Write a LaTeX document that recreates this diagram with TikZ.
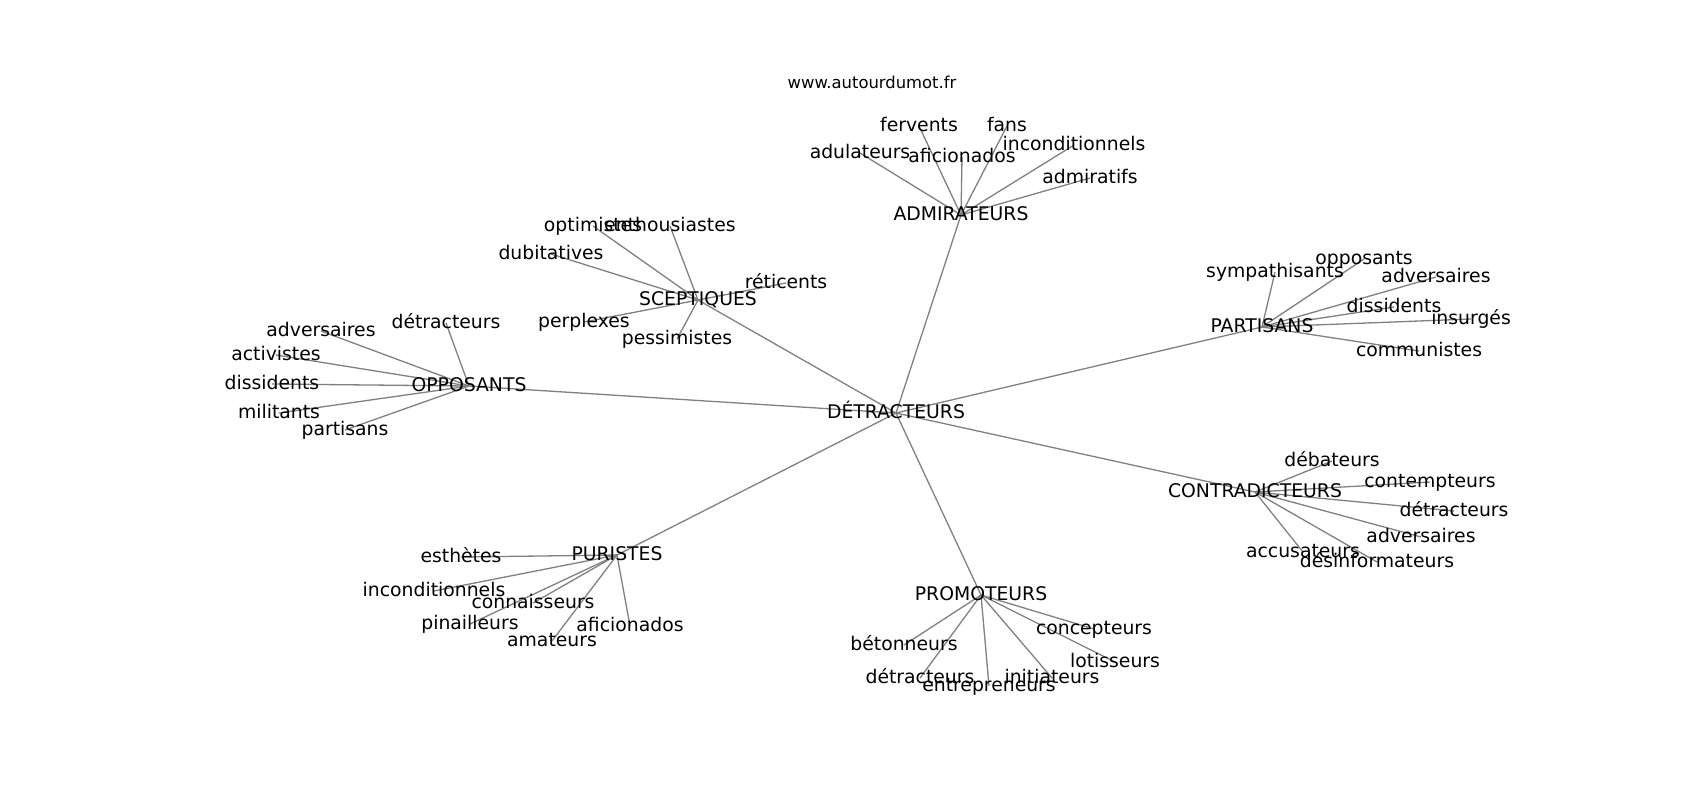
\documentclass[tikz,border=0pt]{standalone}
\usepackage{fontspec}
\setmainfont{DejaVu Sans}
\usetikzlibrary{backgrounds}
\begin{document}
\begin{tikzpicture}[x=0.5pt,y=-0.5pt,
  lbl/.style={inner sep=0pt,text height=0.76em,text depth=0.24em,font=\fontsize{9.4}{11}\selectfont,text=black},
  edge/.style={draw=black!50,line width=0.65pt}]
\path[use as bounding box] (0,0) rectangle (1700,800);
\node[inner sep=0pt,text height=0.76em,text depth=0.24em,font=\fontsize{8.2}{10}\selectfont] (www) at (872,83) {www.autourdumot.fr};
% hubs
\node[lbl] (d) at (896,413) {DÉTRACTEURS};
\node[lbl] (adm) at (961,215) {ADMIRATEURS};
\node[lbl] (scep) at (698,300) {SCEPTIQUES};
\node[lbl] (opp) at (469,386) {OPPOSANTS};
\node[lbl] (par) at (1262,327) {PARTISANS};
\node[lbl] (con) at (1255,492) {CONTRADICTEURS};
\node[lbl] (pur) at (617,555) {PURISTES};
\node[lbl] (pro) at (981,595) {PROMOTEURS};
% admirateurs
\node[lbl] (a1) at (919,126) {fervents};
\node[lbl] (a2) at (1007,126) {fans};
\node[lbl] (a3) at (860,153) {adulateurs};
\node[lbl] (a4) at (962,157) {aficionados};
\node[lbl] (a5) at (1074,145) {inconditionnels};
\node[lbl] (a6) at (1090,178) {admiratifs};
% sceptiques
\node[lbl] (s1) at (593,226) {optimistes};
\node[lbl] (s2) at (670,226) {enthousiastes};
\node[lbl] (s3) at (551,254) {dubitatives};
\node[lbl] (s4) at (786,283) {réticents};
\node[lbl] (s5) at (584,322) {perplexes};
\node[lbl] (s6) at (677,339) {pessimistes};
% opposants
\node[lbl] (o1) at (321,331) {adversaires};
\node[lbl] (o2) at (446,323) {détracteurs};
\node[lbl] (o3) at (276,355) {activistes};
\node[lbl] (o4) at (272,384) {dissidents};
\node[lbl] (o5) at (279,413) {militants};
\node[lbl] (o6) at (345,430) {partisans};
% partisans
\node[lbl] (p1) at (1364,259) {opposants};
\node[lbl] (p2) at (1275,272) {sympathisants};
\node[lbl] (p3) at (1436,277) {adversaires};
\node[lbl] (p4) at (1394,307) {dissidents};
\node[lbl] (p5) at (1471,319) {insurgés};
\node[lbl] (p6) at (1419,351) {communistes};
% contradicteurs
\node[lbl] (c1) at (1332,461) {débateurs};
\node[lbl] (c2) at (1430,482) {contempteurs};
\node[lbl] (c3) at (1454,511) {détracteurs};
\node[lbl] (c4) at (1421,537) {adversaires};
\node[lbl] (c5) at (1303,552) {accusateurs};
\node[lbl] (c6) at (1377,562) {désinformateurs};
% puristes
\node[lbl] (u1) at (461,557) {esthètes};
\node[lbl] (u2) at (434,591) {inconditionnels};
\node[lbl] (u3) at (533,603) {connaisseurs};
\node[lbl] (u4) at (470,624) {pinailleurs};
\node[lbl] (u5) at (630,626) {aficionados};
\node[lbl] (u6) at (552,641) {amateurs};
% promoteurs
\node[lbl] (r1) at (1094,629) {concepteurs};
\node[lbl] (r2) at (904,645) {bétonneurs};
\node[lbl] (r3) at (1115,662) {lotisseurs};
\node[lbl] (r4) at (920,678) {détracteurs};
\node[lbl] (r5) at (989,686) {entrepreneurs};
\node[lbl] (r6) at (1052,678) {initiateurs};
\begin{scope}[on background layer]
\foreach \h in {adm,scep,opp,par,con,pur,pro}
  \draw[edge] (d.center) -- (\h.center);
\foreach \i in {1,...,6} {
  \draw[edge] (adm.center) -- (a\i.center);
  \draw[edge] (scep.center) -- (s\i.center);
  \draw[edge] (opp.center) -- (o\i.center);
  \draw[edge] (par.center) -- (p\i.center);
  \draw[edge] (con.center) -- (c\i.center);
  \draw[edge] (pur.center) -- (u\i.center);
  \draw[edge] (pro.center) -- (r\i.center);
}
\end{scope}
\end{tikzpicture}
\end{document}
